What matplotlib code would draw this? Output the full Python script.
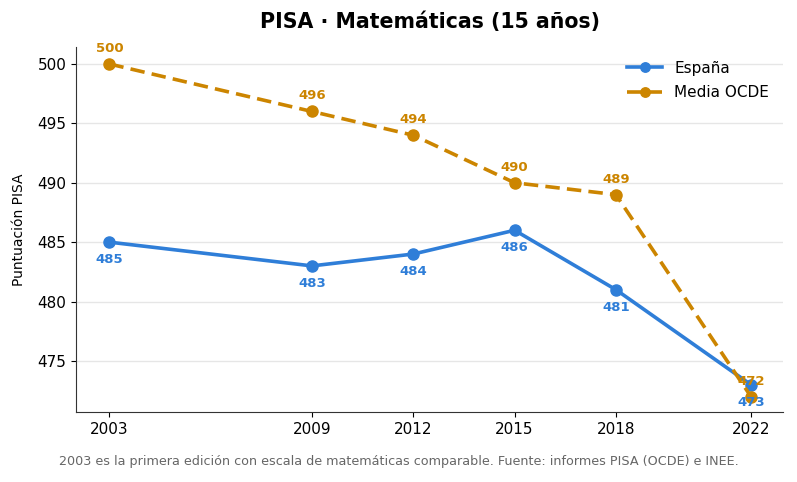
import matplotlib
matplotlib.use("Agg")
import matplotlib.pyplot as plt

# Datos PISA matemáticas
anios = [2003, 2009, 2012, 2015, 2018, 2022]
espana = [485, 483, 484, 486, 481, 473]
ocde = [500, 496, 494, 490, 489, 472]

azul = "#2f7ed8"
naranja = "#cc8500"

fig = plt.figure(figsize=(7.97, 4.82), dpi=100)
ax = fig.add_axes([76/797, 1 - 412/482, (783-76)/797, (412-47)/482])

ax.plot(anios, espana, color=azul, lw=2.6, marker="o", ms=8, label="España", zorder=3)
ax.plot(anios, ocde, color=naranja, lw=2.6, ls=(0, (4, 2)), marker="o", ms=8,
        label="Media OCDE", zorder=3)

for x, y in zip(anios, espana):
    ax.annotate(str(y), (x, y), xytext=(0, -8), textcoords="offset points",
                ha="center", va="top", color=azul, fontsize=9.5, fontweight="bold")
for x, y in zip(anios, ocde):
    ax.annotate(str(y), (x, y), xytext=(0, 6.5), textcoords="offset points",
                ha="center", va="bottom", color=naranja, fontsize=9.5, fontweight="bold")

ax.set_xlim(2002.01, 2022.95)
ax.set_ylim(470.7, 501.43)
ax.set_xticks(anios)
ax.set_yticks([475, 480, 485, 490, 495, 500])
ax.tick_params(labelsize=11)
ax.grid(axis="y", color="#e6e6e6", lw=1)
ax.set_axisbelow(True)
for s in ["top", "right"]:
    ax.spines[s].set_visible(False)
ax.spines["left"].set_color("#333333")
ax.spines["bottom"].set_color("#333333")

ax.set_ylabel("Puntuación PISA", fontsize=10, labelpad=8)
ax.set_title("PISA · Matemáticas (15 años)", fontsize=14.8, fontweight="bold", pad=14)
fig.text(0.5, 1 - 461/482,
         "2003 es la primera edición con escala de matemáticas comparable. Fuente: informes PISA (OCDE) e INEE.",
         ha="center", va="center", fontsize=9.2, color="#666666")

ax.legend(loc="upper right", frameon=False, fontsize=11, handlelength=2.3,
          labelspacing=0.6, markerscale=0.85)

fig.savefig("out.png", dpi=100)
